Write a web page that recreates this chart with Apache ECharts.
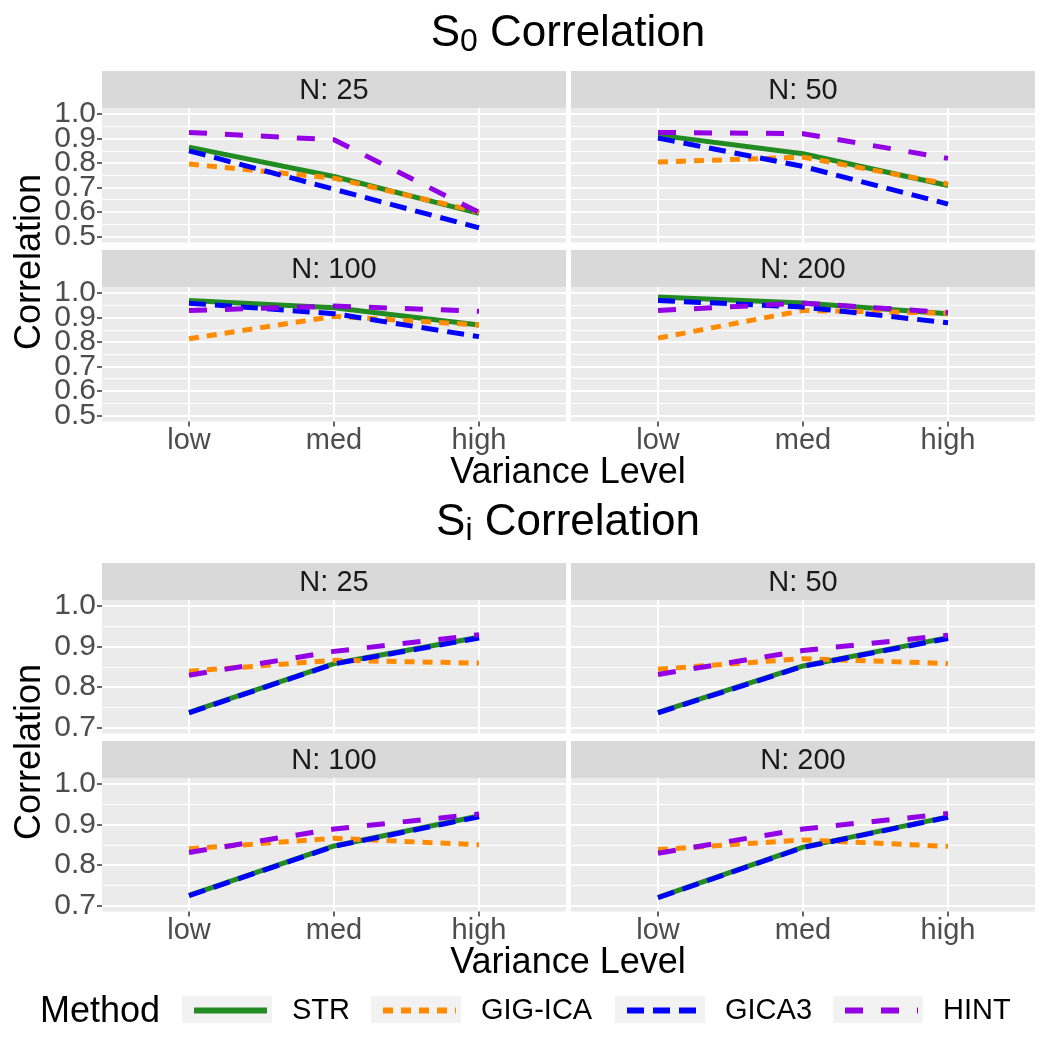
<!DOCTYPE html>
<html>
<head>
<meta charset="utf-8">
<title>S0 / Si correlation by variance level</title>
<script src="https://cdn.jsdelivr.net/npm/echarts@6/dist/echarts.min.js"></script>
<style>
  html, body { margin: 0; padding: 0; background: #fff; }
  #chart { width: 1050px; height: 1049px; }
</style>
</head>
<body>
<div id="chart"></div>
<script>
// categories
const levels = ['low', 'med', 'high'];
const facetNames = ['N: 25', 'N: 50', 'N: 100', 'N: 200'];
const methods = ['STR', 'GIG-ICA', 'GICA3', 'HINT'];

// S0 correlation, one row per facet (N 25, 50, 100, 200), values at low / med / high
const s0STR = [[0.865, 0.745, 0.594], [0.914, 0.838, 0.708], [0.970, 0.940, 0.870], [0.984, 0.960, 0.916]];
const s0GIG = [[0.796, 0.738, 0.600], [0.804, 0.824, 0.714], [0.813, 0.905, 0.870], [0.816, 0.929, 0.918]];
const s0GICA3 = [[0.850, 0.693, 0.535], [0.902, 0.786, 0.632], [0.959, 0.916, 0.822], [0.970, 0.943, 0.879]];
const s0HINT = [[0.925, 0.895, 0.598], [0.925, 0.920, 0.819], [0.929, 0.947, 0.926], [0.929, 0.959, 0.921]];

// Si correlation
const siSTR = [[0.737, 0.858, 0.923], [0.737, 0.852, 0.922], [0.725, 0.847, 0.921], [0.720, 0.844, 0.919]];
const siGIG = [[0.839, 0.866, 0.859], [0.844, 0.870, 0.858], [0.840, 0.866, 0.850], [0.838, 0.862, 0.846]];
const siGICA3 = [[0.736, 0.857, 0.921], [0.736, 0.851, 0.920], [0.724, 0.846, 0.919], [0.719, 0.843, 0.918]];
const siHINT = [[0.829, 0.888, 0.929], [0.831, 0.890, 0.928], [0.831, 0.889, 0.926], [0.829, 0.889, 0.927]];

// tick labels
const s0Ticks = [0.5, 0.6, 0.7, 0.8, 0.9, 1.0];
const s0Minor = [0.55, 0.65, 0.75, 0.85, 0.95];
const siTicks = [0.7, 0.8, 0.9, 1.0];
const siMinor = [0.75, 0.85, 0.95];

const FONT = 'Liberation Sans, Arial, sans-serif';
const methodStyle = [
  { color: '#228B22', type: 'solid' },
  { color: '#FF8C00', type: [10, 8] },
  { color: '#0000FF', type: [17, 9] },
  { color: '#9300E6', type: [18, 18] }
];
const sections = [
  { data: [s0STR, s0GIG, s0GICA3, s0HINT], ticks: s0Ticks, minor: s0Minor, min: 0.475, max: 1.025 },
  { data: [siSTR, siGIG, siGICA3, siHINT], ticks: siTicks, minor: siMinor, min: 0.685, max: 1.015 }
];

// panel layout
const colLeft = [102, 571];
const panelW = 464;
const rowTop = [108, 287, 600, 778];
const rowH = [134.5, 134.5, 133.5, 133.5];
const stripH = 37;

const chart = echarts.init(document.getElementById('chart'));

const grid = [], xAxis = [], yAxis = [], series = [], graphic = [];

function majorY(p, sec, ticks, pos, show) {
  return {
    gridIndex: p, type: 'value', min: sec.min, max: sec.max, position: pos,
    axisLine: { show: false },
    axisTick: { show: show, customValues: ticks, length: 5, lineStyle: { color: '#333', width: 1.5 } },
    axisLabel: {
      show: show, customValues: ticks, margin: 6,
      hideOverlap: false, showMinLabel: true, showMaxLabel: true,
      formatter: (v) => v.toFixed(1),
      fontSize: 30, color: '#4D4D4D', fontFamily: FONT
    },
    splitLine: { show: true, lineStyle: { color: '#FFFFFF', width: 2 } }
  };
}

for (let p = 0; p < 8; p++) {
  const sec = sections[Math.floor(p / 4)];
  const facet = p % 4;
  const col = facet % 2;
  const row = Math.floor(p / 4) * 2 + Math.floor(facet / 2);
  const isBottom = row % 2 === 1;
  const isLeft = col === 0;

  grid.push({
    left: colLeft[col], top: rowTop[row], width: panelW, height: rowH[row],
    show: true, backgroundColor: '#EBEBEB', borderWidth: 0,
    outerBoundsMode: 'none'
  });

  xAxis.push({
    gridIndex: p, type: 'value', min: 0.4, max: 3.6,
    axisLine: { show: false },
    axisTick: { show: isBottom, customValues: [1, 2, 3], length: 5, lineStyle: { color: '#333', width: 1.5 } },
    axisLabel: {
      show: isBottom, customValues: [1, 2, 3], margin: 5,
      hideOverlap: false, showMinLabel: true, showMaxLabel: true,
      formatter: (v) => levels[Math.round(v) - 1],
      fontSize: 29, color: '#4D4D4D', fontFamily: FONT
    },
    splitLine: { show: true, lineStyle: { color: '#FFFFFF', width: 2 } }
  });

  // labels are packed tighter than their height, so split them over two axes
  // (every other tick) to keep echarts from dropping any as overlapping
  const tickA = sec.ticks.filter((t, i) => i % 2 === 0);
  const tickB = sec.ticks.filter((t, i) => i % 2 === 1);
  yAxis.push(majorY(p, sec, tickA, 'left', isLeft));      // index 3p
  yAxis.push({                                             // index 3p+1, minor grid lines
    gridIndex: p, type: 'value', min: sec.min, max: sec.max, position: 'right',
    axisLine: { show: false },
    axisTick: { show: false, customValues: sec.minor },
    axisLabel: { show: false, customValues: sec.minor },
    splitLine: { show: true, lineStyle: { color: '#FFFFFF', width: 1 } }
  });
  yAxis.push(majorY(p, sec, tickB, 'left', isLeft));      // index 3p+2

  methods.forEach((m, mi) => {
    const vals = sec.data[mi][facet];
    series.push({
      type: 'line', name: m,
      xAxisIndex: p, yAxisIndex: p * 3,
      data: levels.map((lv, i) => [i + 1, vals[i]]),
      symbol: 'none', silent: true,
      lineStyle: { color: methodStyle[mi].color, width: 5, type: methodStyle[mi].type },
      itemStyle: { color: methodStyle[mi].color }
    });
  });

  // facet strip
  graphic.push({
    type: 'rect', z: 1,
    shape: { x: colLeft[col], y: rowTop[row] - stripH, width: panelW, height: stripH },
    style: { fill: '#D9D9D9' }
  });
  graphic.push({
    type: 'text', z: 2,
    x: colLeft[col] + panelW / 2, y: rowTop[row] - stripH / 2 + 1,
    style: { text: facetNames[facet], fontSize: 29, fontFamily: FONT, fill: '#1A1A1A', align: 'center', verticalAlign: 'middle' }
  });
}

// section titles, axis titles
const titleRich = {
  m: { fontSize: 44, lineHeight: 48, fontFamily: FONT, fill: '#000' },
  s: { fontSize: 32, lineHeight: 16, verticalAlign: 'bottom', fontFamily: FONT, fill: '#000' }
};
graphic.push({
  type: 'text', x: 568, y: 34,
  style: { text: '{m|S}{s|0}{m| Correlation}', rich: titleRich, align: 'center', verticalAlign: 'middle' }
});
graphic.push({
  type: 'text', x: 568, y: 523,
  style: { text: '{m|S}{s|i}{m| Correlation}', rich: titleRich, align: 'center', verticalAlign: 'middle' }
});
[262, 752].forEach((cy) => {
  graphic.push({
    type: 'text', x: 30, y: cy, rotation: Math.PI / 2,
    style: { text: 'Correlation', fontSize: 36, fontFamily: FONT, fill: '#000', align: 'center', verticalAlign: 'middle' }
  });
});
[473, 963].forEach((cy) => {
  graphic.push({
    type: 'text', x: 568, y: cy,
    style: { text: 'Variance Level', fontSize: 36, fontFamily: FONT, fill: '#000', align: 'center', verticalAlign: 'middle' }
  });
});

// legend
const keyX = [182, 371, 615, 833];
graphic.push({
  type: 'text', x: 40, y: 1012,
  style: { text: 'Method', fontSize: 36, fontFamily: FONT, fill: '#000', align: 'left', verticalAlign: 'middle' }
});
keyX.forEach((kx) => {
  graphic.push({
    type: 'rect', z: 0,
    shape: { x: kx, y: 996, width: 90, height: 27 },
    style: { fill: '#F2F2F2' }
  });
});
const legend = methods.map((m, i) => ({
  data: [m], left: keyX[i] + 9, top: 996, padding: 0,
  itemWidth: 73, itemHeight: 27, z: 5,
  selectedMode: false,
  itemStyle: { opacity: 0 },
  lineStyle: { width: 6 },
  formatter: '{a|{name}}',
  textStyle: {
    fontSize: 29, fontFamily: FONT, color: '#000',
    rich: { a: { fontSize: 29, fontFamily: FONT, color: '#000', padding: [0, 0, 0, 20] } }
  }
}));

chart.setOption({
  animation: false,
  grid, xAxis, yAxis, series, legend, graphic
});
</script>
</body>
</html>
